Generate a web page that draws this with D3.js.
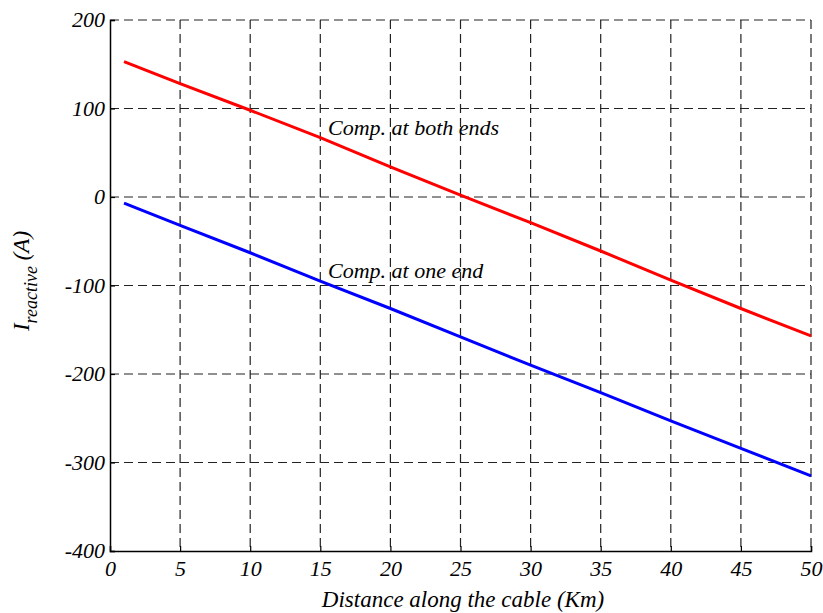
<!DOCTYPE html>
<html><head><meta charset="utf-8">
<script src="https://cdn.jsdelivr.net/npm/d3@7"></script>
<style>body{margin:0;background:#fff}svg{display:block}</style>
</head><body>
<svg id="c" width="823" height="613"></svg>
<script>
const distance = [1, 5, 10, 15, 20, 25, 30, 35, 40, 45, 50];
const bothEnds = [153, 128, 98, 67, 34, 2, -29, -61, -94, -126, -157];
const oneEnd = [-7, -32, -63, -95, -126, -158, -190, -221, -253, -284, -315];
const xTicks = [0, 5, 10, 15, 20, 25, 30, 35, 40, 45, 50];
const yTicks = [-400, -300, -200, -100, 0, 100, 200];

const svg = d3.select("#c");
const x = d3.scaleLinear().domain([0, 50]).range([110, 811]);
const y = d3.scaleLinear().domain([-400, 200]).range([551, 20]);
const font = "'Liberation Serif', 'Times New Roman', serif";

// grid
const grid = svg.append("g").attr("stroke", "#222").attr("stroke-width", 1.2).attr("stroke-dasharray", "9,5");
grid.selectAll(".gv").data(xTicks.filter(d => d > 0)).join("line")
  .attr("x1", d => x(d)).attr("x2", d => x(d)).attr("y1", y(200)).attr("y2", y(-400));
grid.selectAll(".gh").data(yTicks.filter(d => d > -400)).join("line")
  .attr("y1", d => y(d)).attr("y2", d => y(d)).attr("x1", x(0)).attr("x2", x(50));

// axes
const fmt = d => String(d);
const xAxis = svg.append("g").attr("transform", `translate(0,${y(-400)})`)
  .call(d3.axisBottom(x).tickValues(xTicks).tickFormat(fmt).tickSize(-5).tickPadding(9));
const yAxis = svg.append("g").attr("transform", `translate(${x(0)},0)`)
  .call(d3.axisLeft(y).tickValues(yTicks).tickFormat(fmt).tickSize(-5).tickPadding(5));
[xAxis, yAxis].forEach(a => {
  a.select(".domain").attr("stroke", "#000").attr("stroke-width", 1.5);
  a.selectAll(".tick line").attr("stroke", "#000").attr("stroke-width", 1.2);
  a.selectAll("text").attr("font-family", font).attr("font-style", "italic")
    .attr("font-size", 22).attr("fill", "#000");
});
xAxis.selectAll("text").attr("dy", "0.71em");
yAxis.selectAll("text").attr("dy", "0.3em");

// lines
const line = d3.line().x((d, i) => x(distance[i])).y(d => y(d));
svg.append("path").datum(bothEnds).attr("d", line).attr("fill", "none")
  .attr("stroke", "#ff0000").attr("stroke-width", 3);
svg.append("path").datum(oneEnd).attr("d", line).attr("fill", "none")
  .attr("stroke", "#0000ff").attr("stroke-width", 3);

// annotations
svg.append("text").attr("x", 328).attr("y", 135).attr("font-family", font)
  .attr("font-style", "italic").attr("font-size", 22).text("Comp. at both ends");
svg.append("text").attr("x", 328).attr("y", 278).attr("font-family", font)
  .attr("font-style", "italic").attr("font-size", 22).text("Comp. at one end");

// axis titles
svg.append("text").attr("x", 463).attr("y", 607).attr("text-anchor", "middle")
  .attr("font-family", font).attr("font-style", "italic").attr("font-size", 23)
  .text("Distance along the cable (Km)");
const yl = svg.append("text").attr("transform", "translate(29,281) rotate(-90)")
  .attr("text-anchor", "middle").attr("font-family", font).attr("font-style", "italic")
  .attr("font-size", 23);
yl.append("tspan").text("I");
yl.append("tspan").attr("dy", 8).attr("font-size", 18).text("reactive");
yl.append("tspan").attr("dy", -8).text(" (A)");
</script>
</body></html>
